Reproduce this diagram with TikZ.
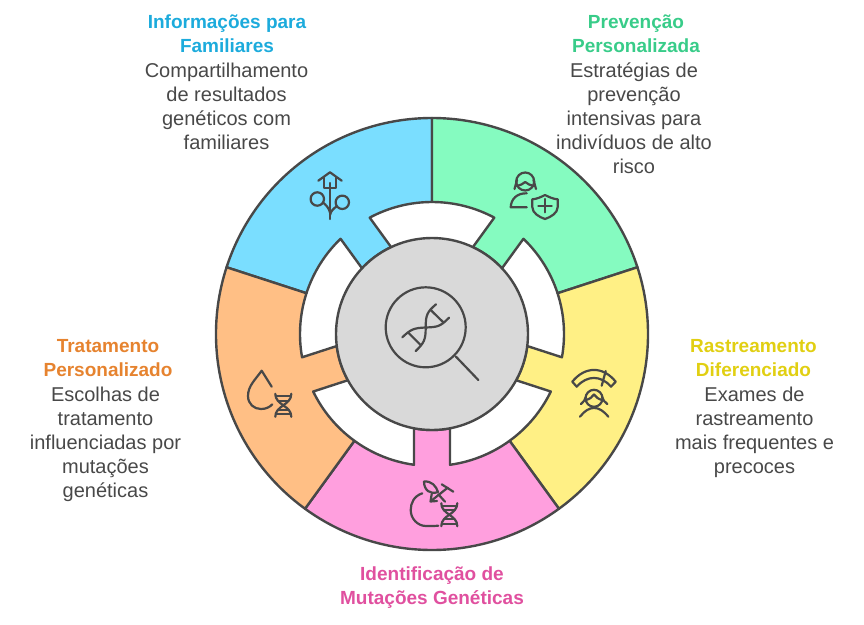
\documentclass[tikz,border=0pt]{standalone}
\usepackage{fontspec}
\setmainfont{Liberation Sans}
\definecolor{infofill}{HTML}{7ADEFF}
\definecolor{prevfill}{HTML}{85FBC0}
\definecolor{rastfill}{HTML}{FFF085}
\definecolor{tratfill}{HTML}{FFBF85}
\definecolor{identfill}{HTML}{FF9FDE}
\definecolor{infohead}{HTML}{1CABDC}
\definecolor{prevhead}{HTML}{38CC89}
\definecolor{rasthead}{HTML}{E1CF12}
\definecolor{trathead}{HTML}{E6832F}
\definecolor{identhead}{HTML}{E0509F}
\definecolor{inkgray}{HTML}{484848}
\definecolor{hubgray}{HTML}{D9D9D9}
\tikzset{
  sector/.style={draw=inkgray,line width=2.4pt,line join=round},
  hub/.style={circle,draw=inkgray,fill=hubgray,line width=2.4pt,minimum size=192pt,inner sep=0pt},
  icon/.style={draw=inkgray,line width=2.2pt,line cap=round,line join=round},
  bigicon/.style={draw=inkgray,line width=2.2pt,line cap=round,line join=round},
  headtext/.style={align=center,anchor=north,inner sep=0pt,font=\fontsize{19}{24}\selectfont\bfseries},
  bodytext/.style={align=center,anchor=north,inner sep=0pt,text=inkgray,font=\fontsize{20}{24}\selectfont},
  dnapic/.pic={
    \draw[icon] (-8,-11.5) .. controls (-8,0) and (8,0) .. (8,11.5);
    \draw[icon] (8,-11.5) .. controls (8,0) and (-8,0) .. (-8,11.5);
    \draw[icon] (-7.5,-9) -- (7.5,-9);
    \draw[icon] (-5,-4.5) -- (5,-4.5);
    \draw[icon] (-5,4.5) -- (5,4.5);
    \draw[icon] (-7.5,9) -- (7.5,9);
  }
}
\begin{document}
\begin{tikzpicture}[x=1pt,y=-1pt]
  \useasboundingbox (0,0) rectangle (864,624);

  \begin{scope}[shift={(432,334)},y=1pt]
    \foreach \mid/\col in {126/infofill,54/prevfill,-18/rastfill,-90/identfill,198/tratfill}{
      \draw[sector,fill=\col] ({\mid+36}:216) arc[start angle=\mid+36,end angle=\mid-36,radius=216]
        -- ({\mid-36}:132) arc[start angle=\mid-36,end angle=\mid-7.84,radius=132]
        -- ({\mid-10.8}:96) arc[start angle=\mid-10.8,end angle=\mid+10.8,radius=96]
        -- ({\mid+7.84}:132) arc[start angle=\mid+7.84,end angle=\mid+36,radius=132]
        -- cycle;
    }
  \end{scope}
  \node[hub] (hub) at (432,334) {};

  \draw[bigicon] (425.7,327.3) circle[radius=40];
  \draw[bigicon] (456,356.7) -- (478.3,380);
  \draw[bigicon] (402.3,337.3) .. controls (411,329) and (414,328) .. (425.7,327.5) .. controls (437,327) and (440,327) .. (449,317.7);
  \draw[bigicon] (415.7,351) .. controls (424,343) and (425.7,340) .. (425.7,327.5) .. controls (425.7,315) and (427,312) .. (436,304.3);
  \draw[bigicon] (408.3,332.7) -- (420.7,345);
  \draw[bigicon] (430.7,310) -- (443.3,322.3);

  \draw[icon] (318.3,180.7) -- (330,172.3) -- (341.7,180.7);
  \draw[icon] (324,177.7) -- (324,188.3) -- (336,188.3) -- (336,177.7);
  \draw[icon] (330,183) -- (330,219);
  \draw[icon] (317.3,199) circle[radius=6.7];
  \draw[icon] (342.3,202.3) circle[radius=6.7];
  \draw[icon] (330,212.7) .. controls (329,208) and (326,205) .. (323,202.5);
  \draw[icon] (330,215) .. controls (331,211) and (333,209) .. (336.5,206.5);

  \draw[icon] (525.2,181.5) circle[radius=9];
  \draw[icon] (516.5,186) .. controls (520,185.5) and (523,184) .. (525.2,182) .. controls (527.5,184) and (530.5,185.5) .. (534,186);
  \draw[icon] (517,180) -- (514.5,189);
  \draw[icon] (533.5,180) -- (536,189);
  \draw[icon] (526.7,193.3) .. controls (517,193) and (511,199) .. (510.7,207.3) -- (526.7,207.3);
  \draw[icon] (532.3,199.3) .. controls (537,199) and (541,197) .. (545,195) .. controls (549,197) and (553,199) .. (557.7,199.3) -- (557.7,207) .. controls (557.7,213) and (551,217) .. (545,219) .. controls (539,217) and (532.3,213) .. (532.3,207) -- cycle;
  \draw[icon] (538.3,205.7) -- (551.7,205.7);
  \draw[icon] (545,199) -- (545,212.4);

  \draw[icon] (572.3,381.7) .. controls (585,366) and (603,366) .. (615.7,381.7) -- (611,386.7) .. controls (601,375) and (587,375) .. (576.7,386.7) -- cycle;
  \draw[icon] (605.7,371) -- (601.7,385.7);
  \draw[icon] (594,398.3) circle[radius=8.5];
  \draw[icon] (586,400) .. controls (590,399) and (592,397) .. (594,394.5) .. controls (596,397) and (598,399) .. (602,400);
  \draw[icon] (586,396.7) .. controls (585.5,400) and (583,402) .. (581,404);
  \draw[icon] (602,396.7) .. controls (602.5,400) and (605,402) .. (607.3,404);
  \draw[icon] (580,416.7) .. controls (589,405) and (599,405) .. (608.3,416.7);

  \draw[icon] (422.3,493.3) .. controls (414,496) and (410.7,503) .. (410.7,510) .. controls (410.7,519) and (418,526) .. (426,526) .. controls (431,526) and (435,526) .. (438.3,525.7);
  \draw[icon] (424,481.5) .. controls (432,481) and (436,486) .. (438,492) .. controls (430,495) and (424,490) .. (424,481.5);
  \draw[icon] (441.7,484.3) -- (453.3,491.7);
  \draw[icon] (447.7,487.7) -- (431,501);
  \draw[icon] (431.7,494) -- (430.5,501.5) -- (437,501);
  \draw[icon] (438.3,494.3) -- (445,501.7);
  \pic at (449.3,514.7) {dnapic};

  \draw[icon] (271.7,386.7) -- (261.7,370.7) .. controls (255,380) and (248,386) .. (248,396) .. controls (248,404) and (254,409) .. (261,409) .. controls (266,409) and (270,407) .. (272.3,404.3);
  \pic at (283.3,405.3) {dnapic};

  \node[headtext,text=infohead] (infotitle) at (227,14.5) {Informações para\\Familiares};
  \node[bodytext] (infobody) at (226.5,62.5) {Compartilhamento\\de resultados\\genéticos com\\familiares};
  \node[headtext,text=prevhead] (prevtitle) at (636,14.5) {Prevenção\\Personalizada};
  \node[bodytext] (prevbody) at (634,62.5) {Estratégias de\\prevenção\\intensivas para\\indivíduos de alto\\risco};
  \node[headtext,text=rasthead] (rasttitle) at (753.5,339.5) {Rastreamento\\Diferenciado};
  \node[bodytext] (rastbody) at (754.5,386.5) {Exames de\\rastreamento\\mais frequentes e\\precoces};
  \node[headtext,text=trathead] (tratitle) at (108,339.5) {Tratamento\\Personalizado};
  \node[bodytext] (trabody) at (105.5,386.5) {Escolhas de\\tratamento\\influenciadas por\\mutações\\genéticas};
  \node[headtext,text=identhead] (identtitle) at (432,566.5) {Identificação de\\Mutações Genéticas};
\end{tikzpicture}
\end{document}
